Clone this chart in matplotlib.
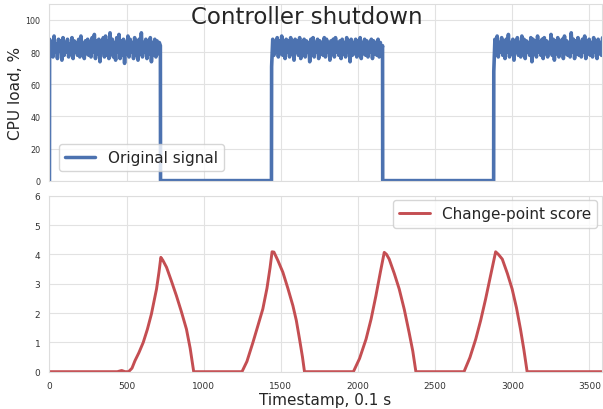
import numpy as np
import matplotlib
matplotlib.use('Agg')
import matplotlib.pyplot as plt
import seaborn as sns

sns.set_style('whitegrid', {'grid.color': '#e2e2e2', 'axes.edgecolor': '#dddddd'})
plt.rcParams['font.family'] = ['DejaVu Sans']

# CPU load while the controller is running
seg1 = [88, 79, 86, 77, 90, 80, 85, 76, 88, 81, 87, 75, 89, 78, 86, 80, 88, 77, 85, 79,
        89, 76, 87, 80, 86, 78, 88, 77, 90, 81, 85, 76, 87, 79, 88, 78, 86, 77, 89, 80,
        91, 76, 87, 79, 88, 74, 86, 80, 89, 77, 90, 78, 87, 76, 92, 79, 88, 77, 86, 75,
        89, 80, 91, 76, 87, 78, 88, 73, 86, 79, 90, 77, 88, 80, 86, 76, 89, 78, 87, 75,
        88, 79, 92, 77, 86, 80, 88, 76, 87, 79, 89, 74, 86, 78, 88, 77, 87, 79, 86, 84]
seg2 = [71, 88, 78, 86, 80, 89, 77, 87, 79, 90, 78, 86, 76, 88, 80, 87, 77, 89, 79, 86,
        75, 88, 80, 87, 78, 89, 76, 86, 79, 88, 77, 87, 80, 86, 74, 88, 79, 89, 77, 86,
        80, 88, 76, 87, 79, 86, 78, 89, 77, 88, 80, 86, 75, 87, 79, 88, 77, 89, 80, 86,
        78, 87, 76, 88, 79, 86, 77, 89, 80, 87, 74, 88, 78, 86, 79, 88, 77, 87, 80, 89,
        76, 86, 79, 88, 78, 87, 77, 86, 80, 88, 76, 87, 79, 86, 78, 88, 77, 86, 80, 84]
seg3 = [68, 88, 79, 90, 77, 86, 80, 89, 78, 87, 76, 88, 80, 91, 77, 86, 79, 88, 75, 87,
        80, 89, 78, 86, 77, 90, 79, 88, 76, 87, 80, 86, 78, 89, 74, 88, 79, 87, 77, 90,
        80, 86, 78, 88, 76, 89, 79, 87, 77, 86, 80, 91, 78, 88, 75, 87, 79, 89, 77, 86,
        80, 88, 76, 90, 79, 87, 78, 86, 77, 92, 80, 88, 76, 87, 79, 89, 78, 86, 77, 88,
        80, 90, 76, 87, 79, 88, 78, 86, 77, 89, 80, 87, 76, 88, 79, 86, 78, 89, 77, 85]
on_spans = [(1, 719), (1440, 2159), (2880, 3600)]
off_spans = [(720, 1439), (2160, 2879)]

# change-point score
score_t = [0, 440, 468, 490, 513, 535, 554, 580, 608, 635, 661, 694, 710, 722, 735, 759,
           790, 823, 855, 888, 912, 935,
           1248, 1280, 1319, 1350, 1383, 1410, 1430, 1443, 1455, 1480, 1513, 1545, 1578,
           1600, 1621, 1640, 1653,
           1970, 2010, 2052, 2085, 2116, 2145, 2170, 2185, 2202, 2235, 2267, 2300, 2331,
           2355, 2375,
           2687, 2725, 2763, 2795, 2827, 2860, 2892, 2910, 2935, 2968, 2999, 3027, 3053,
           3075, 3096, 3600]
score_v = [0, 0, 0.04, 0, 0, 0.12, 0.37, 0.65, 1.0, 1.45, 1.97, 2.82, 3.4, 3.9, 3.8, 3.56,
           3.1, 2.59, 2.05, 1.45, 0.8, 0,
           0, 0.35, 1.0, 1.55, 2.14, 2.85, 3.55, 4.09, 4.08, 3.8, 3.39, 2.85, 2.25,
           1.75, 1.11, 0.5, 0,
           0, 0.45, 1.11, 1.8, 2.59, 3.4, 4.07, 4.0, 3.84, 3.35, 2.82, 2.12, 1.34,
           0.7, 0,
           0, 0.48, 1.11, 1.75, 2.48, 3.3, 4.09, 4.0, 3.84, 3.35, 2.82, 2.18, 1.45,
           0.75, 0, 0]

# build time axis of the signal
t = [0.0]
y = [0.0]
segs = [seg1, seg2, seg3]
for i, seg in enumerate(segs):
    a, b = on_spans[i]
    t += list(np.linspace(a, b, len(seg)))
    y += seg
    if i < len(off_spans):
        c, d = off_spans[i]
        t += [c, d]
        y += [0, 0]

blue = '#4C72B0'
red = '#C44E52'

fig = plt.figure(figsize=(6.03, 4.10), dpi=100)
ax1 = fig.add_axes([0.082, 0.557, 0.916, 0.431])
ax2 = fig.add_axes([0.082, 0.091, 0.916, 0.429])

ax1.plot(t, y, color=blue, lw=2.6, label='Original signal')
ax1.set_xlim(0, 3580)
ax1.set_ylim(0, 110)
ax1.set_yticks([0, 20, 40, 60, 80, 100])
ax1.set_xticks([0, 500, 1000, 1500, 2000, 2500, 3000, 3500])
ax1.set_xticklabels([])
ax1.tick_params(axis='y', labelsize=5.8, pad=3, colors='#333333')
ax1.set_ylabel('CPU load, %', fontsize=11, labelpad=2, color='#262626')
leg1 = ax1.legend(loc='lower left', fontsize=11, frameon=True, borderaxespad=0.6)
for line in leg1.get_lines():
    line.set_linewidth(2.5)

ax2.plot(score_t, score_v, color=red, lw=2.1, label='Change-point score')
ax2.set_xlim(0, 3580)
ax2.set_ylim(0, 6)
ax2.set_xticks([0, 500, 1000, 1500, 2000, 2500, 3000, 3500])
ax2.tick_params(axis='both', labelsize=6.5, pad=3, colors='#333333')
ax2.set_xlabel('Timestamp, 0.1 s', fontsize=11, labelpad=2, color='#262626')
ax2.legend(loc='upper right', fontsize=11, frameon=True, borderaxespad=0.3)

fig.text(0.509, 0.985, 'Controller shutdown', ha='center', va='top',
         fontsize=16.5, color='#262626')

fig.savefig('out.png', dpi=100)
